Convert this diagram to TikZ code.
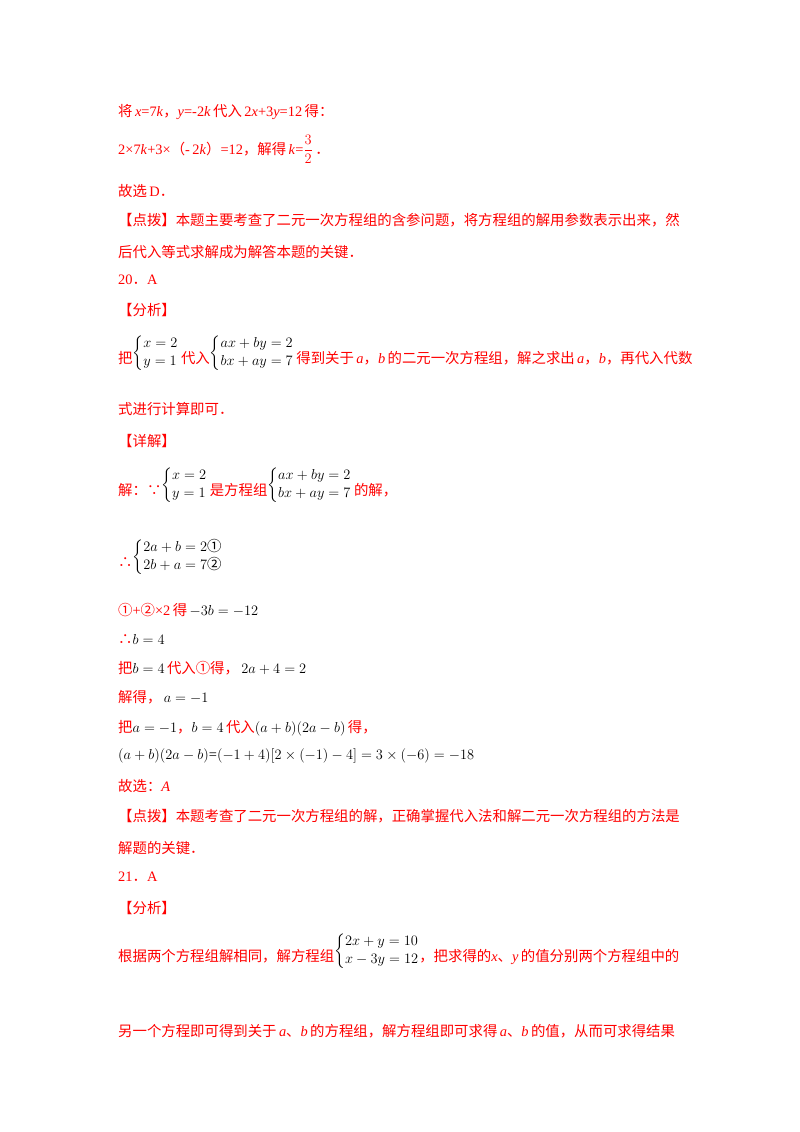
\documentclass[tikz,border=0pt]{standalone}
\usepackage{amsmath}
\usepackage{fontspec}
\setmainfont{Liberation Serif}
\newfontfamily\cjk{Noto Sans CJK SC}
\newcommand{\zh}[1]{{\cjk #1}}
\newcommand{\bk}[1]{\textcolor{black}{#1}}
\newcommand{\sys}[2]{\raisebox{6.5pt}{$\left\{\begin{array}{@{}l@{}}#1\\[1pt]#2\end{array}\right.$}}
\begin{document}
\begin{tikzpicture}[x=1pt,y=-1pt,
  ln/.style={anchor=base west,inner sep=0pt,text=red,font=\fontsize{14.4}{17}\selectfont}]
\useasboundingbox[fill=white] (0,0) rectangle (800,1132);
\node[ln] (l1) at (118,116) {\zh{将}\,\textit{x}=7\textit{k}\zh{，}\textit{y}=-2\textit{k}\,\zh{代入}\,2\textit{x}+3\textit{y}=12\,\zh{得：}};
\node[ln] (l2) at (118,154) {2×7\textit{k}+3×\zh{（}-\,2\textit{k}\zh{）}=12\zh{，解得}\,\textit{k}=$\dfrac{3}{2}$\,\zh{．}};
\node[ln] (l3) at (118,196) {\zh{故选}\,D\zh{．}};
\node[ln] (l4) at (118,225) {\zh{【点拨】本题主要考查了二元一次方程组的含参问题，将方程组的解用参数表示出来，然}};
\node[ln] (l5) at (118,257) {\zh{后代入等式求解成为解答本题的关键．}};
\node[ln] (l6) at (118,284) {20\zh{．}A};
\node[ln] (l7) at (118,315) {\zh{【分析】}};
\node[ln] (l8) at (118,363) {\zh{把}\bk{\sys{x=2}{y=1}}\,\zh{代入}\bk{\sys{ax+by=2}{bx+ay=7}}\,\zh{得到关于}\,\textit{a}\zh{，}\textit{b}\,\zh{的二元一次方程组，解之求出}\,\textit{a}\zh{，}\textit{b}\zh{，再代入代数}};
\node[ln] (l9) at (118,414) {\zh{式进行计算即可．}};
\node[ln] (l10) at (118,446) {\zh{【详解】}};
\node[ln] (l11) at (118,495) {\zh{解：∵}\bk{\sys{x=2}{y=1}}\,\zh{是方程组}\bk{\sys{ax+by=2}{bx+ay=7}}\,\zh{的解，}};
\node[ln] (l12) at (118,567) {\zh{∴}\bk{\sys{2a+b=2\text{\cjk ①}}{2b+a=7\text{\cjk ②}}}};
\node[ln] (l13) at (118,615) {\zh{①}+\zh{②}×2\,\zh{得}\,\bk{$-3b=-12$}};
\node[ln] (l14) at (118,644) {\zh{∴}\bk{$b=4$}};
\node[ln] (l15) at (118,673) {\zh{把}\bk{$b=4$}\,\zh{代入①得，}\,\bk{$2a+4=2$}};
\node[ln] (l16) at (118,702) {\zh{解得，}\,\bk{$a=-1$}};
\node[ln] (l17) at (118,732) {\zh{把}\bk{$a=-1$}\zh{，}\bk{$b=4$}\,\zh{代入}\bk{$(a+b)(2a-b)$}\,\zh{得，}};
\node[ln] (l18) at (118,759) {\bk{$(a+b)(2a-b)$=$(-1+4)[2\times(-1)-4]=3\times(-6)=-18$}};
\node[ln] (l19) at (118,791) {\zh{故选：}\textit{A}};
\node[ln] (l20) at (118,821) {\zh{【点拨】本题考查了二元一次方程组的解，正确掌握代入法和解二元一次方程组的方法是}};
\node[ln] (l21) at (118,853) {\zh{解题的关键．}};
\node[ln] (l22) at (118,881) {21\zh{．}A};
\node[ln] (l23) at (118,913) {\zh{【分析】}};
\node[ln] (l24) at (118,961) {\zh{根据两个方程组解相同，解方程组}\bk{\sys{2x+y=10}{x-3y=12}}\zh{，把求得的}\textit{x}\zh{、}\textit{y}\,\zh{的值分别两个方程组中的}};
\node[ln] (l25) at (118,1036) {\zh{另一个方程即可得到关于}\,\textit{a}\zh{、}\textit{b}\,\zh{的方程组，解方程组即可求得}\,\textit{a}\zh{、}\textit{b}\,\zh{的值，从而可求得结果}};
\end{tikzpicture}
\end{document}
